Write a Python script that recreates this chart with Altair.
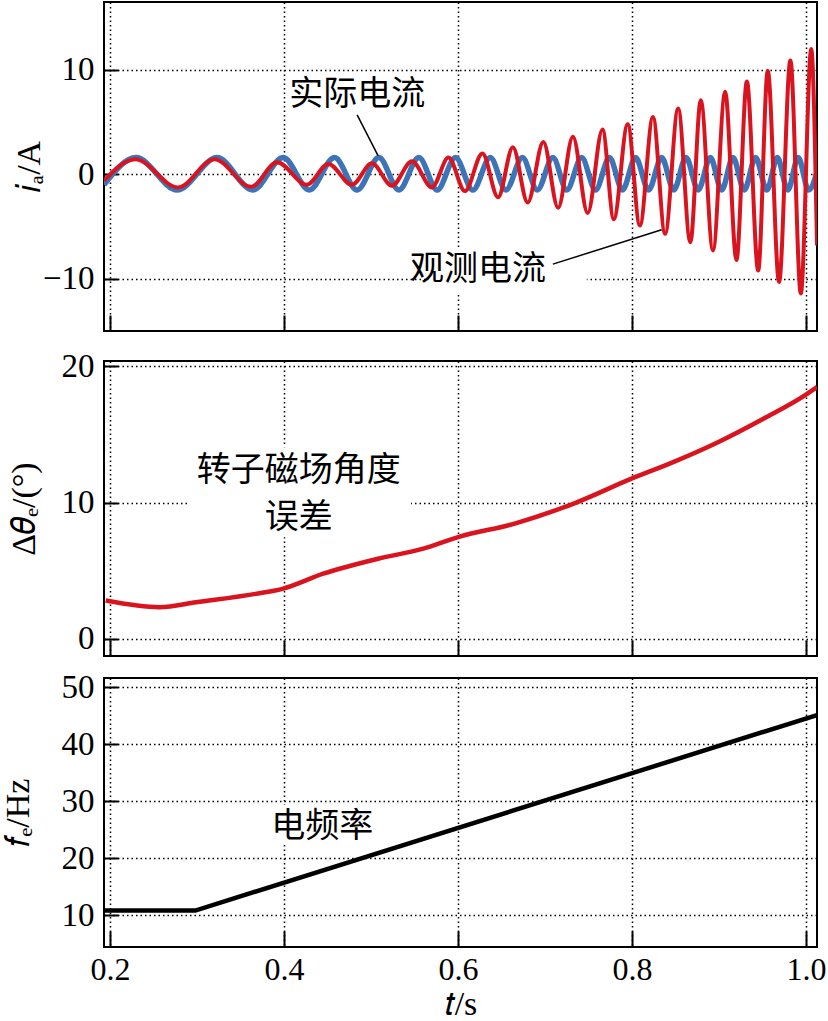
import altair as alt
import pandas as pd

# ---------------- data ----------------
# top panel: extrema of the actual current (blue) and observed current (red)
blue_t = [0.193, 0.230, 0.277, 0.323, 0.364, 0.399, 0.429, 0.458, 0.484, 0.509,
          0.532, 0.555, 0.576, 0.597, 0.617, 0.637, 0.655, 0.674, 0.691, 0.709,
          0.725, 0.742, 0.758, 0.774, 0.789, 0.804, 0.819, 0.834, 0.848, 0.862,
          0.876, 0.890, 0.903, 0.916, 0.929, 0.942, 0.955, 0.967, 0.979, 0.991,
          1.003, 1.0126]
blue_i = [-1.0, 1.6, -1.5, 1.6, -1.5, 1.6, -1.5, 1.6, -1.5, 1.6,
          -1.5, 1.6, -1.5, 1.6, -1.5, 1.6, -1.5, 1.6, -1.5, 1.6,
          -1.5, 1.6, -1.5, 1.6, -1.5, 1.6, -1.5, 1.6, -1.5, 1.6,
          -1.5, 1.6, -1.5, 1.6, -1.5, 1.6, -1.5, 1.6, -1.5, 1.6,
          -1.5, 0.2]

red_t = [0.193, 0.229, 0.278, 0.320, 0.362, 0.392, 0.426, 0.451, 0.478, 0.501,
         0.524, 0.547, 0.570, 0.589, 0.608, 0.628, 0.646, 0.663, 0.680, 0.698,
         0.715, 0.732, 0.749, 0.766, 0.779, 0.795, 0.809, 0.824, 0.838, 0.853,
         0.867, 0.879, 0.893, 0.907, 0.920, 0.932, 0.945, 0.956, 0.969, 0.982,
         0.994, 1.006, 1.0126]
red_i = [-0.6, 1.45, -1.25, 1.45, -1.2, 1.15, -1.0, 1.0, -1.0, 1.05,
         -1.1, 1.25, -1.25, 1.6, -1.6, 2.0, -2.2, 2.6, -2.7, 3.1,
         -3.2, 3.6, -3.7, 4.3, -4.3, 4.8, -4.9, 5.5, -5.7, 6.3,
         -6.5, 7.1, -7.3, 7.9, -8.2, 8.9, -9.2, 9.9, -10.3, 10.9,
         -11.4, 12.0, -6.8]

# middle panel: rotor field angle error
err_t = [0.195, 0.257, 0.299, 0.367, 0.398, 0.445, 0.508, 0.560, 0.600, 0.665,
         0.733, 0.800, 0.848, 0.900, 0.952, 0.999, 1.0126]
err_v = [2.82, 2.33, 2.70, 3.31, 3.68, 4.79, 5.89, 6.63, 7.48, 8.47,
         9.94, 11.78, 13.0, 14.48, 16.2, 17.9, 18.5]

# bottom panel: electrical frequency
fe_t = [0.193, 0.298, 1.0126]
fe_v = [10.8, 10.8, 45.1]

# ticks
x_ticks = [0.2, 0.4, 0.6, 0.8, 1.0]
top_ticks = [-10, 0, 10]
mid_ticks = [0, 10, 20]
bot_ticks = [10, 20, 30, 40, 50]

# annotations
top_labels = ["实际电流", "观测电流"]
top_label_t = [0.484, 0.623]
top_label_v = [7.6, -9.2]
top_lead_t1 = [0.484, 0.709]
top_lead_v1 = [5.7, -8.6]
top_lead_t2 = [0.508, 0.834]
top_lead_v2 = [1.8, -5.3]
top_mask_t = [0.566]; top_mask_t2 = [0.748]; top_mask_v = [-7.0]; top_mask_v2 = [-11.5]

mid_labels = ["转子磁场角度", "误差"]
mid_label_t = [0.417, 0.417]
mid_label_v = [12.3, 8.85]
mid_mask_t = [0.290]; mid_mask_t2 = [0.546]; mid_mask_v = [14.07]; mid_mask_v2 = [7.47]

bot_labels = ["电频率"]
bot_label_t = [0.444]
bot_label_v = [25.4]
bot_mask_t = [0.382]; bot_mask_t2 = [0.506]; bot_mask_v = [29.3]; bot_mask_v2 = [22.5]

# ---------------- styling ----------------
SERIF = "Liberation Serif"
CJK = "Noto Sans CJK SC"
W = 713
XDOM = [0.193, 1.0126]
BLUE = "#3d74b8"
RED = "#d9141e"
FS = 33
TFS = 34

xs = alt.Scale(domain=XDOM, nice=False, zero=False)


def grid_axis(orient, values, labels, title=None, title_x=None, height=None, fmt=None):
    kw = dict(orient=orient, values=values, grid=True, gridColor="black", gridDash=[1.5, 3],
              gridWidth=1.5, gridOpacity=1, ticks=False, domain=False, labels=labels,
              labelFont=SERIF, labelFontSize=FS if orient == "left" else 32,
              labelColor="black", titleFont=SERIF,
              titleFontSize=TFS, titleFontWeight="normal", titleColor="black")
    if fmt:
        kw["format"] = fmt
    if labels:
        kw["labelPadding"] = 7 if orient == "bottom" else 10
    if title is not None:
        kw["title"] = title
        if orient == "left":
            kw["titleX"] = title_x
            kw["titleY"] = height / 2
        else:
            kw["titleY"] = 67
            kw["titleBaseline"] = "alphabetic"
    else:
        kw["title"] = None
    return alt.Axis(**kw)


def tick_axis(orient, values, size):
    return alt.Axis(orient=orient, values=values, grid=False, ticks=True, tickSize=size,
                    tickColor="black", tickWidth=2, offset=-size, labels=False,
                    domain=False, title=None)


def panel(height, ydom, yticks, ytitle, title_x, layers_fn, bottom):
    ys = alt.Scale(domain=ydom, nice=False, zero=False)
    xa = grid_axis("bottom", x_ticks, bottom, "𝑡/s" if bottom else None, fmt=".1f")
    ya = grid_axis("left", yticks, True, ytitle, title_x, height)
    inner = alt.layer(*layers_fn(xa, ya, ys))
    tick_df = pd.DataFrame({"t": [0.6], "v": [(ydom[0] + ydom[1]) / 2]})
    ticks = alt.Chart(tick_df).mark_point(opacity=0, size=1).encode(
        x=alt.X("t:Q", scale=xs, axis=tick_axis("bottom", x_ticks, 16)),
        y=alt.Y("v:Q", scale=ys, axis=tick_axis("left", yticks, 14)),
    )
    return alt.layer(inner, ticks).resolve_axis(x="independent", y="independent").properties(
        width=W, height=height)


def rect_layer(t, t2, v, v2, xa, ya, ys):
    df = pd.DataFrame({"t": t, "t2": t2, "v": v, "v2": v2})
    return alt.Chart(df).mark_rect(color="white").encode(
        x=alt.X("t:Q", scale=xs, axis=xa), x2="t2:Q",
        y=alt.Y("v:Q", scale=ys, axis=ya), y2="v2:Q")


def line_layer(t, v, color, width, xa, ya, ys, interp="monotone"):
    df = pd.DataFrame({"t": t, "v": v})
    return alt.Chart(df).mark_line(color=color, strokeWidth=width, interpolate=interp,
                                   clip=True).encode(
        x=alt.X("t:Q", scale=xs, axis=xa), y=alt.Y("v:Q", scale=ys, axis=ya))


def text_layer(labels, t, v, xa, ya, ys):
    df = pd.DataFrame({"label": labels, "t": t, "v": v})
    return alt.Chart(df).mark_text(font=CJK, fontSize=34, color="black", align="center",
                                   baseline="middle").encode(
        x=alt.X("t:Q", scale=xs, axis=xa), y=alt.Y("v:Q", scale=ys, axis=ya), text="label:N")


def top_layers(xa, ya, ys):
    lead = pd.DataFrame({"t": top_lead_t1, "v": top_lead_v1, "t2": top_lead_t2, "v2": top_lead_v2})
    return [
        rect_layer(top_mask_t, top_mask_t2, top_mask_v, top_mask_v2, xa, ya, ys),
        line_layer(blue_t, blue_i, BLUE, 5.5, xa, ya, ys),
        line_layer(red_t, red_i, RED, 4, xa, ya, ys),
        alt.Chart(lead).mark_rule(color="black", strokeWidth=1.5).encode(
            x=alt.X("t:Q", scale=xs, axis=xa), y=alt.Y("v:Q", scale=ys, axis=ya),
            x2="t2:Q", y2="v2:Q"),
        text_layer(top_labels, top_label_t, top_label_v, xa, ya, ys),
    ]


def mid_layers(xa, ya, ys):
    return [
        rect_layer(mid_mask_t, mid_mask_t2, mid_mask_v, mid_mask_v2, xa, ya, ys),
        line_layer(err_t, err_v, RED, 4.5, xa, ya, ys),
        text_layer(mid_labels, mid_label_t, mid_label_v, xa, ya, ys),
    ]


def bot_layers(xa, ya, ys):
    return [
        rect_layer(bot_mask_t, bot_mask_t2, bot_mask_v, bot_mask_v2, xa, ya, ys),
        line_layer(fe_t, fe_v, "black", 4.5, xa, ya, ys, interp="linear"),
        text_layer(bot_labels, bot_label_t, bot_label_v, xa, ya, ys),
    ]


top = panel(329, [-15, 16.5], top_ticks, "𝑖ₐ/A", -58, top_layers, False)
mid = panel(295, [-1.25, 20.4], mid_ticks, "Δ𝜃ₑ/(°)", -63, mid_layers, False)
bot = panel(269, [4.4, 51.6], bot_ticks, "𝑓ₑ/Hz", -69, bot_layers, True)

chart = alt.vconcat(
    top, alt.vconcat(mid, bot, spacing=22, bounds="flush"), spacing=30, bounds="flush"
).properties(
    padding={"left": 0, "top": 1, "right": 0, "bottom": 0},
    background="white",
).configure_view(
    stroke="black", strokeWidth=2
)

chart.save("out.html", embed_options={"renderer": "svg", "actions": False})
